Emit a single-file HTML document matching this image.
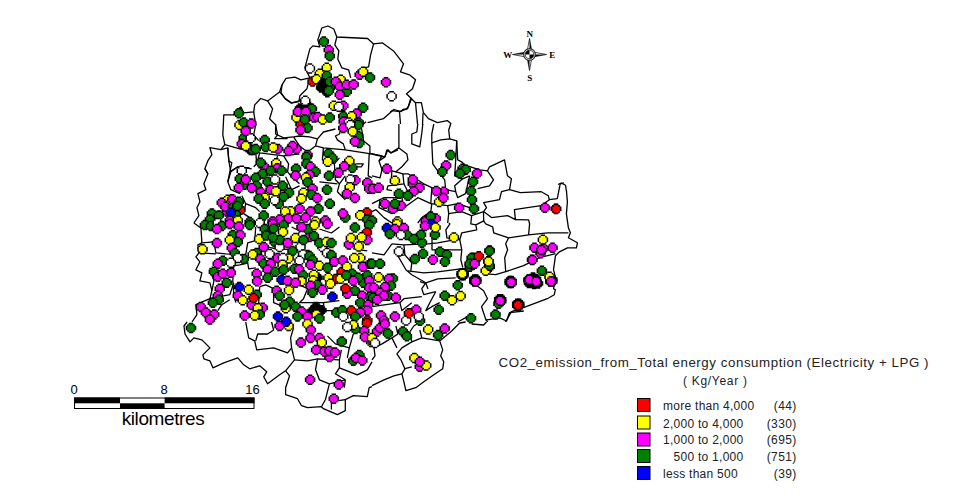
<!DOCTYPE html>
<html><head><meta charset="utf-8"><title>CO2 emission map</title>
<style>
html,body{margin:0;padding:0;background:#fff;}
body{width:964px;height:499px;overflow:hidden;position:relative;font-family:"Liberation Sans",sans-serif;color:#000;}
svg{position:absolute;left:0;top:0;}
svg text{font-family:"Liberation Sans",sans-serif;}
</style></head><body>
<svg width="964" height="499" viewBox="0 0 964 499">
<g fill="none" stroke="#000" stroke-width="1.3" stroke-linejoin="round">
<polyline points="227.8,147.9 228.8,160.9 231.8,162.8 229.8,171.8 227.8,181.8 230.8,189.7 239.8,193.7"/>
<polyline points="229.8,171.8 237.8,166.8 249.7,167.8"/>
<polyline points="255.7,151.9 256.7,163.8 253.7,166.8"/>
<polyline points="283.6,155.9 288.6,163.8 287.6,171.8 291.6,176.8 299.5,183.8"/>
<polyline points="293.5,136.9 299.5,136 309.5,136.9 317.5,138.9 315.5,145.9 307.5,151.9 299.5,145.9 293.5,136.9"/>
<polyline points="315.5,145.9 323.4,147.9 345.3,149.9 371.2,153.9"/>
<polyline points="345.3,149.9 343.3,143.9 337.4,139.9 335.4,136 339.4,134 342.4,124"/>
<polyline points="317.5,138.9 323.4,132 335.4,129"/>
<polyline points="275.6,124 275.6,134 283.6,137.9 293.5,136.9"/>
<polyline points="323.4,147.9 322.4,159.9 334.4,163.8 339.4,157.9"/>
<polyline points="334.4,163.8 335.4,179.8 339.4,183.8 337.4,191.7 345.3,199.7"/>
<polyline points="339.4,183.8 345.3,175.8"/>
<polyline points="285.6,176.8 291.6,189.7 299.5,185.8"/>
<polyline points="241.8,195.7 245.7,203.7 255.7,207.7 259.7,211.6"/>
<polyline points="245.7,203.7 243.7,213.6 249.7,217.6"/>
<polyline points="355.3,163.8 363.3,163.8 361.3,166.8 355.3,166.8"/>
<polyline points="369.2,153.9 368.2,175.8 372,177.8"/>
<polyline points="319.4,181.8 337.4,183.8"/>
<polyline points="259.7,152.9 257.7,159.9"/>
<polyline points="277.6,155.9 275.6,161.8"/>
<polyline points="267.6,179.8 267.6,191.7"/>
<polyline points="200.9,228 205.9,229"/>
<polyline points="213.9,241.9 215.9,252.9 225.8,253.9 245.7,254.9 247.7,262.8 239.8,264.8 233.8,265.8 232.8,280.8 233.8,294.7 235.8,302.7"/>
<polyline points="247.7,262.8 248.7,268.8 255.7,267.8"/>
<polyline points="255.7,227 254.7,240.9 247.7,242.9 245.7,254.9"/>
<polyline points="255.7,240.9 267.6,246.9 275.6,248.9 299.5,249.9 301.5,255.9"/>
<polyline points="267.6,246.9 268.6,258.9"/>
<polyline points="259.7,286.7 265.7,284.8 273.6,288.7 273.6,302.7 283.6,306.7"/>
<polyline points="259.7,286.7 258.7,302.7 265.7,310.6"/>
<polyline points="299.5,284.8 307.5,288.7 303.5,298.7 299.5,302.7 323.4,302.7 339.4,300.7"/>
<polyline points="323.4,302.7 324.4,310.6 335.4,310.6"/>
<polyline points="319.4,229 331.4,233 339.4,227"/>
<polyline points="353.3,248.9 367.3,250.9"/>
<polyline points="291.6,227 299.5,231 297.5,236.9"/>
<polyline points="209.9,267.8 213.9,280.8 211.9,290.7"/>
<polyline points="282,84.8 286,78.4 294.9,77.2 300.9,79.8 309.9,77.8 306.9,88.7 299.9,95.7 298.9,101.7 291,103.1 285,98.7 281,92.7 282,84.8"/>
<polyline points="309.9,77.8 304.9,67.8 309.9,48.9 312.9,45.9 319.8,46.9 317.8,39.9 321.8,28 327.8,26 333.8,29 336.8,37 367.6,38.5 373.6,43.9 382.6,42.9 393.5,50.9 403.5,63.8 400.5,71.8 409.5,74.8 415.5,79.8 412.5,88.7 406.5,93.7 411.5,98.7 407.5,108.7 399.5,111.7 392.5,110.7 383.6,118.6 367.6,122.6"/>
<polyline points="411.5,98.7 415.5,102.7 421.4,102.7 423.4,112.6 428.4,118.6 437.4,122.6 447.3,120.6 451.3,124"/>
<polyline points="336.8,37 334.8,44.9 338.8,50.9 337.8,58.9 341.8,67.8 348.7,69.8 350.7,77.8"/>
<polyline points="373.6,43.9 370.6,54.9 368.6,66.8 363.7,67.8"/>
<polyline points="399.5,111.7 400.5,124"/>
<polyline points="415.5,102.7 417.5,124"/>
<polyline points="282,84.8 279.6,91.9 267.6,100.9 260.7,98.5 254.7,104.9 253.7,111.9 243.7,112.8 240.8,106.9 236.8,109.9 233.8,114.8 223.8,114.8 222.8,134.8 224.8,144.7 220.8,149.7 209.9,147.7 211.9,154.7 207.9,160.7 204.9,168.6 207.9,174"/>
<polyline points="267.6,100.9 272.6,108.9 269.6,118.8 275.6,124.8 277.6,134.8 274.6,138.7 287.6,138.7"/>
<polyline points="253.7,111.9 255.7,124.8 253.7,134.8 258.7,140.7"/>
<polyline points="279.6,91.9 285.6,98.9 291.6,102.9 299.5,100.9 304.5,96.9"/>
<polyline points="204.9,168.6 207.9,173.8 203.9,183.8 205.9,189.7 197.9,193.7 199.9,201.7 196.9,207.7 198.9,215.6 193.9,223"/>
<polyline points="224.8,144.7 239.8,148.9 259.7,152.9 283.6,155.9 299.5,153.9"/>
<polyline points="220.8,149.7 227.8,147.9 228.8,160.9 230.8,171.8 227.8,181.8"/>
<polyline points="230.8,171.8 237.8,166.8 251.7,168.8"/>
<polyline points="398.9,124 398.9,147.9 406.9,153.9 407.9,159.9 401.9,166.8 395.9,171.8 391.9,170.8 382,169.8 379,160.9 384.9,156.9 386.9,149.9 390.9,152.9 398.9,147.9"/>
<polyline points="417.8,124 416.8,132 411.8,134 411.8,143.9 419.8,146.9 421.8,133 422.8,124"/>
<polyline points="433.8,124 431.8,134 431.8,142.9 440.7,139.9 449.7,138.9 456.7,140.9 457.7,159.9 461.6,161.8 464.6,164.8"/>
<polyline points="450.7,124 448.7,130 449.7,138.9"/>
<polyline points="431.8,142.9 432.8,163.8 437.7,170.8"/>
<polyline points="456.7,140.9 455.7,159.9 454.7,175.8 462.6,178.8 469.6,175.8"/>
<polyline points="464.6,164.8 479.6,169.8 487.5,170.8 489.5,166.8 504.5,159.9 507.5,175.8 511.4,178.8 509.5,189.7 520.4,192.7 541.3,191.7 548.3,195.7 549.3,199.7 557.3,198.7 560.2,183.8 564,182.8"/>
<polyline points="487.5,170.8 493.5,179.8 489.5,185.8 477.6,188.7"/>
<polyline points="509.5,189.7 501.5,191.7 499.5,199.7 483.6,202.7 486.5,207.7 483.6,211.6 491.5,217.6 507.5,215.6 515.4,219.6 514.4,209.7 527.4,207.7 541.3,205.7 549.3,199.7"/>
<polyline points="372,153.9 382,155.9 379,160.9"/>
<polyline points="395.9,171.8 402.9,173.8 407.9,173.8 423.8,183.8 431.8,187.7 445.7,189.7 444.7,179.8 437.7,170.8"/>
<polyline points="445.7,189.7 455.7,191.7 457.7,197.7 465.6,193.7 469.6,175.8"/>
<polyline points="455.7,191.7 454.7,185.8 462.6,178.8"/>
<polyline points="431.8,187.7 430.8,203.7 447.7,205.7 457.7,203.7 469.6,207.7"/>
<polyline points="447.7,205.7 448.7,213.6 447.7,223"/>
<polyline points="448.7,213.6 461.6,211.6 471.6,215.6 483.6,211.6"/>
<polyline points="382,169.8 380,177.8 372,175.8"/>
<polyline points="402.9,173.8 403.9,183.8 387.9,185.8 386.9,189.7 391.9,190.7"/>
<polyline points="391.9,170.8 390.9,183.8"/>
<polyline points="372,203.7 380,199.7 384,197.7 401.9,197.7 403.9,207.7 417.8,197.7 430.8,203.7"/>
<polyline points="380,199.7 379,207.7 391.9,213.6 403.9,207.7"/>
<polyline points="403.9,183.8 407.9,191.7 423.8,183.8"/>
<polyline points="372,211.6 376,209.7 384,217.6 391.9,223"/>
<polyline points="417.8,223 421.8,217.6 430.8,211.6 431.8,203.7"/>
<polyline points="566.4,190 567.4,202 566.4,213.9 568.4,227.8 570.4,232.8 568.4,237.8 577.4,242.8 576.4,247.8 567.4,247.8 559.4,251.8 555.5,255.7 553.5,269.7 555.5,277.6 553.5,289"/>
<polyline points="568.4,232.8 547.5,232.8 528.6,234.8 508.6,237.8 505.7,243.8 507.6,249.8 504.7,257.7 505.7,271.7 495.7,274.7 483.7,273.7"/>
<polyline points="505.7,271.7 523.6,265.7 539.5,257.7 555.5,253.7"/>
<polyline points="528.6,234.8 529.6,223.9 528.6,219.9 515.4,219.7"/>
<polyline points="508.6,237.8 493.7,232.8 492.7,226.9 485.7,223.9 483.7,220.9 475.8,224.9 476.8,229.8 461.8,232.8 459.8,239.8 461.8,249.8 460.8,259.7 462.8,267.7"/>
<polyline points="483.7,220.9 483.5,211.7"/>
<polyline points="448.9,223.1 449.9,223.9 445.9,229.8 446.9,237.8 459.8,239.8"/>
<polyline points="471.6,215.7 470.8,223.9 475.8,224.9"/>
<polyline points="420,281.6 426,283.6 428,289"/>
<polyline points="432,237.8 432,249.8 449.9,249.8 461.8,249.8"/>
<polyline points="193.9,223 200.9,228 201.9,242.9 197.9,244.9 198.9,252.9 195.9,256.9 199.9,261.8 195.9,269.8 201.9,272.8 199.9,280.8 209.9,282.8 211.9,290.7 209.9,298.7 195.9,304.7 196.9,314.6 192,322"/>
<polyline points="201.9,242.9 213.9,241.9"/>
<polyline points="198.9,252.9 215.9,253.9"/>
<polyline points="209.9,298.7 229.8,294.7 233.8,282.8"/>
<polyline points="229.8,299.7 221.8,304.7 217.8,310.6"/>
<polyline points="553.5,288.9 555.3,289.7 554.3,294.7 547.3,298.7 531.4,304.7 523.4,307.7 511.4,311.6 507.5,318.6 505.5,322"/>
<polyline points="407.9,270.8 423.8,272.8 437.7,271.8 460.6,268.8 463.6,276.8"/>
<polyline points="391.9,243.9 403.9,244.9 404.9,254.9 397.9,255.9 405.9,269.8 411.8,274.8 425.8,282.8 421.8,288.7 423.8,294.7 435.7,291.7"/>
<polyline points="425.8,282.8 437.7,278.8 455.7,277.8"/>
<polyline points="475.6,284.8 483.6,290.7 487.5,298.7 481.6,306.7 485.5,318.6 487.5,322"/>
<polyline points="435.7,291.7 429.8,302.7 425.8,310.6 431.8,306.7 439.7,302.7"/>
<polyline points="372,252.9 384,254.9 391.9,243.9"/>
<polyline points="404.9,254.9 411.8,262.8 410.8,270.8"/>
<polyline points="403.9,244.9 427.8,243.9 437.7,242.9 459.6,238.9"/>
<polyline points="372,306.7 399.9,302.7 403.9,298.7 421.8,296.7"/>
<polyline points="399.9,302.7 401.9,310.6 411.8,302.7"/>
<polyline points="457.7,322 467.6,316.6"/>
<polyline points="187,322 184,326 185,334 190,341.9 193.9,337.9 201.9,339.9 209.9,347.9 202.9,354.9 203.9,358.9 209.9,360.8 212.9,367.8 223.8,362.8 237.8,357.9 243.7,364.8 249.7,368.8 259.7,365.8 266.7,371.8 263.7,376.8 267.6,383.8 279.6,374.8 285.6,370.8 289.6,375.8 285.6,387.7 285.6,394.7 297.5,398.7 301.5,405.7 307.5,407.7 321.4,406.7 323.4,408.7 337.4,414.6 345.3,410.6 345.3,399.7 353.3,395.7 367.3,396.7 369.2,387.7 372,386.7"/>
<polyline points="245.7,322 248.7,337.9 254.7,340.9 256.7,349.9 273.6,347.9 287.6,352.9 291.6,347.9 290.6,337.9 293.5,328"/>
<polyline points="255.7,340.9 257.7,334 267.6,334 273.6,330 271.6,322"/>
<polyline points="291.6,347.9 294.5,359.8 285.6,370.8"/>
<polyline points="294.5,359.8 307.5,360.8 317.5,358.9 339.4,359.8 341.4,349.9"/>
<polyline points="317.5,358.9 315.5,369.8 319.4,379.8 329.4,383.8 325.4,399.7 321.4,406.7"/>
<polyline points="329.4,383.8 345.3,379.8 344.3,387.7"/>
<polyline points="339.4,359.8 339.4,367.8 335.4,373.8 345.3,379.8"/>
<polyline points="339.4,367.8 357.3,374.8 367.3,369.8 372,361.8"/>
<polyline points="345.3,399.7 331.4,401.7 331.4,409.6"/>
<polyline points="327.4,335.9 335.4,343.9 349.3,347.9 353.3,334"/>
<polyline points="349.3,347.9 347.3,357.9"/>
<polyline points="372,385.7 384,379.8 393.9,375.8 401.9,373.8 403.9,381.8 405.9,390.7 415.8,387.7 423.8,381.8 433.8,374.8 442.7,368.8 443.7,361.8 440.7,355.9 442.7,349.9 439.7,340.9 451.7,331 459.6,323 465.6,322"/>
<polyline points="471.6,324 483.6,325 486.5,322"/>
<polyline points="401.9,373.8 404.9,368.8 400.9,359.8 396.9,353.9 401.9,347.9 411.8,341.9 421.8,337.9 439.7,340.9"/>
<polyline points="403.9,368.8 411.8,366.8"/>
<polyline points="372,359.8 375,355.9 374,347.9 382,343.9 391.9,337.9 397.9,334 395.9,326"/>
<polyline points="391.9,337.9 396.9,347.9"/>
<polyline points="411.8,341.9 409.8,332 413.8,326 419.8,322"/>
<polyline points="421.8,337.9 419.8,330"/>
<polyline points="411,97.5 408.5,106 406.5,109 403,109.5 401,111.5 394,109.5 390,112"/>
<polyline points="423,113 422.5,125"/>
<polyline points="366.1,121.8 361.1,126.1 363.6,141.1 369.9,146.1 369.9,153.5"/>
<polyline points="384.8,157 387.9,149.8 391,152.9 397.9,149.8"/>
<polyline points="369.9,153.5 384.8,157"/>
<polyline points="558,184.5 561.2,183 565.5,185.3 566.3,190.5"/>
<polyline points="485.4,320.1 499.7,317.8 506.5,321 509.5,312.6 523.8,311"/>
</g>
<defs><g id="o"><path d="M-2.25,-5.25L2.25,-5.25L2.25,-3.75L3.75,-3.75L3.75,-2.25L5.25,-2.25L5.25,2.25L3.75,2.25L3.75,3.75L2.25,3.75L2.25,5.25L-2.25,5.25L-2.25,3.75L-3.75,3.75L-3.75,2.25L-5.25,2.25L-5.25,-2.25L-3.75,-2.25L-3.75,-3.75L-2.25,-3.75Z" fill="#000"/><path d="M-2.25,-3.75L2.25,-3.75L2.25,-2.25L3.75,-2.25L3.75,2.25L2.25,2.25L2.25,3.75L-2.25,3.75L-2.25,2.25L-3.75,2.25L-3.75,-2.25L-2.25,-2.25Z"/></g></defs>
<g>
<use href="#o" x="335.6" y="279" fill="#ff0000"/>
<use href="#o" x="274.6" y="241.9" fill="#008000"/>
<use href="#o" x="307.5" y="254.9" fill="#ffff00"/>
<use href="#o" x="309.5" y="236.9" fill="#ff00ff"/>
<use href="#o" x="352.3" y="273.8" fill="#008000"/>
<use href="#o" x="363.3" y="282.8" fill="#008000"/>
<use href="#o" x="317.5" y="277.8" fill="#000000"/>
<use href="#o" x="341.6" y="272" fill="#ff0000"/>
<use href="#o" x="300.5" y="246.9" fill="#ffffff"/>
<use href="#o" x="303.1" y="254.5" fill="#ffffff"/>
<use href="#o" x="299.5" y="260.8" fill="#ffffff"/>
<use href="#o" x="322.4" y="246.9" fill="#ffffff"/>
<use href="#o" x="327" y="252.9" fill="#ffffff"/>
<use href="#o" x="279.6" y="246.9" fill="#ffffff"/>
<use href="#o" x="285.8" y="308.3" fill="#ffff00"/>
<use href="#o" x="420" y="320.8" fill="#008000"/>
<use href="#o" x="406.1" y="320.6" fill="#ffffff"/>
<use href="#o" x="312.4" y="311" fill="#000000"/>
<use href="#o" x="321.4" y="310.3" fill="#000000"/>
<use href="#o" x="316" y="307" fill="#000000"/>
<use href="#o" x="509.7" y="281.1" fill="#000000"/>
<use href="#o" x="511.7" y="281.1" fill="#000000"/>
<use href="#o" x="509.7" y="283.1" fill="#000000"/>
<use href="#o" x="511.7" y="283.1" fill="#000000"/>
<use href="#o" x="517.2" y="303.7" fill="#000000"/>
<use href="#o" x="519.2" y="303.7" fill="#000000"/>
<use href="#o" x="517.2" y="305.7" fill="#000000"/>
<use href="#o" x="519.2" y="305.7" fill="#000000"/>
<use href="#o" x="499.2" y="299.2" fill="#000000"/>
<use href="#o" x="501.2" y="299.2" fill="#000000"/>
<use href="#o" x="499.2" y="301.2" fill="#000000"/>
<use href="#o" x="501.2" y="301.2" fill="#000000"/>
<use href="#o" x="474.3" y="279.6" fill="#000000"/>
<use href="#o" x="476.3" y="279.6" fill="#000000"/>
<use href="#o" x="474.3" y="281.6" fill="#000000"/>
<use href="#o" x="476.3" y="281.6" fill="#000000"/>
<use href="#o" x="550.3" y="279.6" fill="#000000"/>
<use href="#o" x="552.3" y="279.6" fill="#000000"/>
<use href="#o" x="550.3" y="281.6" fill="#000000"/>
<use href="#o" x="552.3" y="281.6" fill="#000000"/>
<use href="#o" x="461.6" y="273.3" fill="#000000"/>
<use href="#o" x="463.6" y="273.3" fill="#000000"/>
<use href="#o" x="461.6" y="275.3" fill="#000000"/>
<use href="#o" x="463.6" y="275.3" fill="#000000"/>
<use href="#o" x="531" y="280" fill="#000000"/>
<use href="#o" x="533" y="277.5" fill="#000000"/>
<use href="#o" x="534" y="284" fill="#000000"/>
<use href="#o" x="538" y="283.5" fill="#000000"/>
<use href="#o" x="529" y="283" fill="#000000"/>
<use href="#o" x="536" y="279" fill="#000000"/>
<use href="#o" x="312.6" y="81.5" fill="#ff0000"/>
<use href="#o" x="321.1" y="87.4" fill="#000000"/>
<use href="#o" x="327.3" y="92.3" fill="#000000"/>
<use href="#o" x="323.6" y="82.4" fill="#000000"/>
<use href="#o" x="330" y="88" fill="#008000"/>
<use href="#o" x="300.5" y="123.9" fill="#ff0000"/>
<use href="#o" x="239.5" y="125" fill="#ffff00"/>
<use href="#o" x="296.5" y="117.5" fill="#ffff00"/>
<use href="#o" x="243" y="143.5" fill="#000000"/>
<use href="#o" x="248" y="147" fill="#000000"/>
<use href="#o" x="300" y="108.5" fill="#000000"/>
<use href="#o" x="309" y="107" fill="#000000"/>
<use href="#o" x="240.4" y="209.7" fill="#ff0000"/>
<use href="#o" x="227.8" y="199.7" fill="#ffff00"/>
<use href="#o" x="226.8" y="211.6" fill="#ff00ff"/>
<use href="#o" x="235.8" y="214.6" fill="#008000"/>
<use href="#o" x="323.8" y="41.5" fill="#008000"/>
<use href="#o" x="328.8" y="49.9" fill="#ff00ff"/>
<use href="#o" x="329.8" y="55.9" fill="#008000"/>
<use href="#o" x="309.9" y="68.4" fill="#ffffff"/>
<use href="#o" x="326.8" y="67.8" fill="#ffff00"/>
<use href="#o" x="319.8" y="73.8" fill="#ffff00"/>
<use href="#o" x="326.8" y="75.8" fill="#008000"/>
<use href="#o" x="316.5" y="79.2" fill="#ffff00"/>
<use href="#o" x="340.8" y="79.8" fill="#ffff00"/>
<use href="#o" x="322.8" y="83.8" fill="#000000"/>
<use href="#o" x="324.8" y="84.8" fill="#000000"/>
<use href="#o" x="329.8" y="81.8" fill="#008000"/>
<use href="#o" x="335.8" y="81.8" fill="#ff00ff"/>
<use href="#o" x="328.8" y="90.7" fill="#008000"/>
<use href="#o" x="346.7" y="91.7" fill="#008000"/>
<use href="#o" x="339.8" y="86.4" fill="#ff00ff"/>
<use href="#o" x="346.7" y="84.8" fill="#ff00ff"/>
<use href="#o" x="353.7" y="84.4" fill="#ff00ff"/>
<use href="#o" x="339.8" y="94.7" fill="#ff00ff"/>
<use href="#o" x="359.7" y="74.8" fill="#ff00ff"/>
<use href="#o" x="363.1" y="71.8" fill="#ffff00"/>
<use href="#o" x="370" y="77.4" fill="#008000"/>
<use href="#o" x="386" y="82.2" fill="#ff00ff"/>
<use href="#o" x="391.6" y="96.3" fill="#ffffff"/>
<use href="#o" x="305.3" y="100.7" fill="#ffffff"/>
<use href="#o" x="311.9" y="108.7" fill="#008000"/>
<use href="#o" x="297.9" y="111.7" fill="#ff00ff"/>
<use href="#o" x="305.9" y="111.7" fill="#ff00ff"/>
<use href="#o" x="304.9" y="119.6" fill="#008000"/>
<use href="#o" x="313.9" y="117.6" fill="#ff00ff"/>
<use href="#o" x="317.8" y="117" fill="#ff00ff"/>
<use href="#o" x="322.8" y="119.6" fill="#ffff00"/>
<use href="#o" x="329.8" y="117.6" fill="#008000"/>
<use href="#o" x="333.8" y="105.7" fill="#ffff00"/>
<use href="#o" x="343.3" y="105.7" fill="#ff00ff"/>
<use href="#o" x="338.8" y="106.7" fill="#ffffff"/>
<use href="#o" x="363.1" y="107.7" fill="#008000"/>
<use href="#o" x="343.3" y="116.2" fill="#008000"/>
<use href="#o" x="356.7" y="113.6" fill="#ff00ff"/>
<use href="#o" x="351.7" y="116.2" fill="#ffff00"/>
<use href="#o" x="358.7" y="122.6" fill="#008000"/>
<use href="#o" x="343.7" y="121.6" fill="#ff00ff"/>
<use href="#o" x="348.7" y="122.6" fill="#ffffff"/>
<use href="#o" x="238.8" y="113.2" fill="#008000"/>
<use href="#o" x="243.7" y="122.4" fill="#008000"/>
<use href="#o" x="251.3" y="123.4" fill="#ff00ff"/>
<use href="#o" x="243.7" y="137.9" fill="#008000"/>
<use href="#o" x="245.7" y="131" fill="#ff00ff"/>
<use href="#o" x="250.7" y="138.3" fill="#ffffff"/>
<use href="#o" x="241.8" y="143.9" fill="#ff00ff"/>
<use href="#o" x="250.7" y="149.9" fill="#000000"/>
<use href="#o" x="252.7" y="149.9" fill="#008000"/>
<use href="#o" x="255.7" y="148.9" fill="#008000"/>
<use href="#o" x="245.7" y="145.9" fill="#ffff00"/>
<use href="#o" x="264.7" y="139.9" fill="#008000"/>
<use href="#o" x="265.7" y="146.9" fill="#008000"/>
<use href="#o" x="278" y="148.9" fill="#ff00ff"/>
<use href="#o" x="273.2" y="147.5" fill="#ffff00"/>
<use href="#o" x="296.5" y="148.9" fill="#ff00ff"/>
<use href="#o" x="292.5" y="145.9" fill="#ff00ff"/>
<use href="#o" x="288.6" y="150.9" fill="#ff00ff"/>
<use href="#o" x="307.5" y="128" fill="#008000"/>
<use href="#o" x="300.5" y="130" fill="#ff00ff"/>
<use href="#o" x="343.3" y="128" fill="#ff00ff"/>
<use href="#o" x="358.3" y="125" fill="#008000"/>
<use href="#o" x="350.3" y="125" fill="#ffffff"/>
<use href="#o" x="359.3" y="142.9" fill="#008000"/>
<use href="#o" x="358.3" y="136" fill="#008000"/>
<use href="#o" x="352.7" y="131.6" fill="#ffff00"/>
<use href="#o" x="354.9" y="141.5" fill="#ff00ff"/>
<use href="#o" x="263.7" y="166.2" fill="#ff00ff"/>
<use href="#o" x="260.7" y="162.8" fill="#008000"/>
<use href="#o" x="276.2" y="163.2" fill="#ffff00"/>
<use href="#o" x="277.2" y="168.2" fill="#ff00ff"/>
<use href="#o" x="262.7" y="173.8" fill="#008000"/>
<use href="#o" x="270.6" y="170.8" fill="#008000"/>
<use href="#o" x="281.6" y="170.8" fill="#008000"/>
<use href="#o" x="241.8" y="170.8" fill="#ffffff"/>
<use href="#o" x="239.8" y="178.8" fill="#008000"/>
<use href="#o" x="243.7" y="184.8" fill="#008000"/>
<use href="#o" x="245.7" y="179.4" fill="#ff00ff"/>
<use href="#o" x="255.7" y="177.8" fill="#008000"/>
<use href="#o" x="238.8" y="187.7" fill="#ff00ff"/>
<use href="#o" x="256.7" y="185.8" fill="#008000"/>
<use href="#o" x="251.7" y="188.1" fill="#ff00ff"/>
<use href="#o" x="260.7" y="192.3" fill="#ff00ff"/>
<use href="#o" x="267.6" y="181.8" fill="#008000"/>
<use href="#o" x="275" y="179.4" fill="#ffffff"/>
<use href="#o" x="282.6" y="185.8" fill="#008000"/>
<use href="#o" x="270.6" y="189.7" fill="#ff00ff"/>
<use href="#o" x="276" y="191.3" fill="#ffff00"/>
<use href="#o" x="289" y="192.7" fill="#008000"/>
<use href="#o" x="283.6" y="196.7" fill="#008000"/>
<use href="#o" x="264.7" y="197.7" fill="#ffff00"/>
<use href="#o" x="258.7" y="198.7" fill="#008000"/>
<use href="#o" x="264.7" y="203.7" fill="#008000"/>
<use href="#o" x="307.5" y="154.9" fill="#ff00ff"/>
<use href="#o" x="306.5" y="156.9" fill="#008000"/>
<use href="#o" x="306.5" y="163.8" fill="#008000"/>
<use href="#o" x="310.5" y="166.8" fill="#ff00ff"/>
<use href="#o" x="296.1" y="168.8" fill="#008000"/>
<use href="#o" x="315.5" y="171.8" fill="#008000"/>
<use href="#o" x="295.5" y="175.4" fill="#ff00ff"/>
<use href="#o" x="309.5" y="174.8" fill="#ff00ff"/>
<use href="#o" x="305.9" y="177.4" fill="#ffff00"/>
<use href="#o" x="307.5" y="182.2" fill="#008000"/>
<use href="#o" x="312.5" y="188.7" fill="#ff00ff"/>
<use href="#o" x="303.5" y="192.7" fill="#ffff00"/>
<use href="#o" x="311.5" y="194.7" fill="#008000"/>
<use href="#o" x="301.5" y="198.7" fill="#ffff00"/>
<use href="#o" x="317.1" y="198.1" fill="#ff00ff"/>
<use href="#o" x="328.4" y="153.5" fill="#008000"/>
<use href="#o" x="332.4" y="157.9" fill="#008000"/>
<use href="#o" x="327.8" y="161.8" fill="#ffff00"/>
<use href="#o" x="329" y="175.8" fill="#008000"/>
<use href="#o" x="327" y="189.7" fill="#008000"/>
<use href="#o" x="329.8" y="203.7" fill="#008000"/>
<use href="#o" x="318.4" y="208.7" fill="#008000"/>
<use href="#o" x="352.3" y="167.8" fill="#008000"/>
<use href="#o" x="349.3" y="160.9" fill="#ffff00"/>
<use href="#o" x="344.3" y="166.2" fill="#ff00ff"/>
<use href="#o" x="338.4" y="172.8" fill="#ff00ff"/>
<use href="#o" x="355.3" y="180.2" fill="#ff00ff"/>
<use href="#o" x="350.3" y="179.4" fill="#ffffff"/>
<use href="#o" x="349.7" y="187.3" fill="#ffff00"/>
<use href="#o" x="346.9" y="193.7" fill="#ff00ff"/>
<use href="#o" x="354.9" y="198.1" fill="#ff00ff"/>
<use href="#o" x="367.3" y="182.8" fill="#ff00ff"/>
<use href="#o" x="369.2" y="188.7" fill="#ff00ff"/>
<use href="#o" x="345.3" y="217.6" fill="#008000"/>
<use href="#o" x="342.9" y="213.6" fill="#ff00ff"/>
<use href="#o" x="366.9" y="212.6" fill="#ff0000"/>
<use href="#o" x="360.3" y="215.2" fill="#ffff00"/>
<use href="#o" x="367.3" y="219.6" fill="#008000"/>
<use href="#o" x="232.2" y="199.3" fill="#ff00ff"/>
<use href="#o" x="221.8" y="202.7" fill="#ff00ff"/>
<use href="#o" x="238.8" y="201.7" fill="#008000"/>
<use href="#o" x="225.4" y="206.7" fill="#ff00ff"/>
<use href="#o" x="232.8" y="207.7" fill="#008000"/>
<use href="#o" x="230.8" y="212.6" fill="#0000ff"/>
<use href="#o" x="211.9" y="213.6" fill="#008000"/>
<use href="#o" x="218.8" y="215.6" fill="#008000"/>
<use href="#o" x="209.9" y="219.6" fill="#008000"/>
<use href="#o" x="229.8" y="220.6" fill="#ff00ff"/>
<use href="#o" x="237.8" y="220.6" fill="#ffff00"/>
<use href="#o" x="249.7" y="222" fill="#008000"/>
<use href="#o" x="278.6" y="203.7" fill="#008000"/>
<use href="#o" x="290.6" y="211.3" fill="#ffff00"/>
<use href="#o" x="285.2" y="211.6" fill="#ffff00"/>
<use href="#o" x="299.5" y="208.7" fill="#ff00ff"/>
<use href="#o" x="310.5" y="211.6" fill="#ff00ff"/>
<use href="#o" x="288.6" y="218.6" fill="#ff00ff"/>
<use href="#o" x="296.5" y="218.6" fill="#ff00ff"/>
<use href="#o" x="305.5" y="217.6" fill="#ff00ff"/>
<use href="#o" x="263.7" y="215.6" fill="#008000"/>
<use href="#o" x="279.6" y="219.6" fill="#ff00ff"/>
<use href="#o" x="272.6" y="221.6" fill="#ff00ff"/>
<use href="#o" x="325.4" y="220.6" fill="#ff00ff"/>
<use href="#o" x="315.5" y="221.6" fill="#ffff00"/>
<use href="#o" x="450.7" y="154.9" fill="#008000"/>
<use href="#o" x="446.1" y="165.4" fill="#ff00ff"/>
<use href="#o" x="442.3" y="171.8" fill="#008000"/>
<use href="#o" x="462.6" y="168.8" fill="#008000"/>
<use href="#o" x="465.6" y="169.8" fill="#008000"/>
<use href="#o" x="460" y="173.4" fill="#008000"/>
<use href="#o" x="477" y="173.4" fill="#ff00ff"/>
<use href="#o" x="473" y="181.8" fill="#008000"/>
<use href="#o" x="471" y="191.1" fill="#008000"/>
<use href="#o" x="472" y="199.7" fill="#008000"/>
<use href="#o" x="474" y="208.7" fill="#008000"/>
<use href="#o" x="459.1" y="207.7" fill="#ff00ff"/>
<use href="#o" x="544.9" y="207.7" fill="#ff00ff"/>
<use href="#o" x="555.9" y="208.7" fill="#ff0000"/>
<use href="#o" x="386.9" y="168.8" fill="#ff00ff"/>
<use href="#o" x="394.9" y="180.8" fill="#ffff00"/>
<use href="#o" x="412.8" y="183.8" fill="#ff00ff"/>
<use href="#o" x="412.8" y="179.4" fill="#ff00ff"/>
<use href="#o" x="419.4" y="187.7" fill="#ff00ff"/>
<use href="#o" x="413.8" y="191.3" fill="#ff00ff"/>
<use href="#o" x="373" y="188.7" fill="#ff00ff"/>
<use href="#o" x="378.6" y="187.7" fill="#ff00ff"/>
<use href="#o" x="398.9" y="193.7" fill="#008000"/>
<use href="#o" x="407.9" y="195.7" fill="#008000"/>
<use href="#o" x="384.9" y="203.7" fill="#ff00ff"/>
<use href="#o" x="400.9" y="205.7" fill="#ff00ff"/>
<use href="#o" x="392.9" y="208.7" fill="#ff00ff"/>
<use href="#o" x="394.9" y="203.7" fill="#008000"/>
<use href="#o" x="443.7" y="191.7" fill="#ff00ff"/>
<use href="#o" x="436.3" y="191.1" fill="#ff00ff"/>
<use href="#o" x="439.1" y="202.1" fill="#ffff00"/>
<use href="#o" x="443.3" y="198.1" fill="#ff00ff"/>
<use href="#o" x="435.7" y="218.6" fill="#ff00ff"/>
<use href="#o" x="425.8" y="221.2" fill="#ff00ff"/>
<use href="#o" x="430.8" y="216.6" fill="#008000"/>
<use href="#o" x="397.5" y="221.6" fill="#ffff00"/>
<use href="#o" x="372" y="220.6" fill="#008000"/>
<use href="#o" x="556.1" y="208.9" fill="#ff0000"/>
<use href="#o" x="542.9" y="239.8" fill="#ffff00"/>
<use href="#o" x="540.5" y="253.3" fill="#ff00ff"/>
<use href="#o" x="534.5" y="247.8" fill="#ff00ff"/>
<use href="#o" x="552.5" y="247.8" fill="#ff00ff"/>
<use href="#o" x="543.5" y="248.4" fill="#ff00ff"/>
<use href="#o" x="532" y="259.7" fill="#ff00ff"/>
<use href="#o" x="541.9" y="270.7" fill="#008000"/>
<use href="#o" x="528.6" y="279.6" fill="#000000"/>
<use href="#o" x="528.6" y="280.6" fill="#ff00ff"/>
<use href="#o" x="549.5" y="276.7" fill="#ffff00"/>
<use href="#o" x="535.9" y="281.2" fill="#ff00ff"/>
<use href="#o" x="550.9" y="281.2" fill="#ff00ff"/>
<use href="#o" x="511" y="282.2" fill="#ff00ff"/>
<use href="#o" x="489.7" y="250.4" fill="#008000"/>
<use href="#o" x="472.8" y="257.7" fill="#008000"/>
<use href="#o" x="474.8" y="259.7" fill="#ffff00"/>
<use href="#o" x="469.8" y="266.7" fill="#008000"/>
<use href="#o" x="472.8" y="264.7" fill="#ff00ff"/>
<use href="#o" x="489.7" y="266.7" fill="#008000"/>
<use href="#o" x="485.7" y="270.7" fill="#ffff00"/>
<use href="#o" x="488.3" y="261.3" fill="#ffff00"/>
<use href="#o" x="462.4" y="273.7" fill="#ffff00"/>
<use href="#o" x="475.4" y="281.2" fill="#ff00ff"/>
<use href="#o" x="457.8" y="285.2" fill="#008000"/>
<use href="#o" x="453.9" y="237.4" fill="#ffff00"/>
<use href="#o" x="434.9" y="234.8" fill="#008000"/>
<use href="#o" x="439.9" y="251.8" fill="#008000"/>
<use href="#o" x="446.9" y="254.7" fill="#008000"/>
<use href="#o" x="444.9" y="261.7" fill="#008000"/>
<use href="#o" x="432.9" y="259.7" fill="#ff00ff"/>
<use href="#o" x="423" y="253.7" fill="#008000"/>
<use href="#o" x="422" y="242.8" fill="#008000"/>
<use href="#o" x="421" y="234.8" fill="#008000"/>
<use href="#o" x="431.6" y="223.9" fill="#0000ff"/>
<use href="#o" x="425" y="225.9" fill="#ff00ff"/>
<use href="#o" x="435.5" y="227.5" fill="#ffff00"/>
<use href="#o" x="204.9" y="225" fill="#008000"/>
<use href="#o" x="210.9" y="226" fill="#008000"/>
<use href="#o" x="217.8" y="223" fill="#ffffff"/>
<use href="#o" x="221.8" y="226" fill="#008000"/>
<use href="#o" x="216.9" y="229" fill="#ff00ff"/>
<use href="#o" x="229.8" y="224" fill="#ff00ff"/>
<use href="#o" x="249.7" y="225" fill="#008000"/>
<use href="#o" x="238.8" y="226.6" fill="#ff00ff"/>
<use href="#o" x="259.7" y="223" fill="#ffffff"/>
<use href="#o" x="264.7" y="229" fill="#008000"/>
<use href="#o" x="269.2" y="233" fill="#0000ff"/>
<use href="#o" x="272.6" y="224" fill="#ff00ff"/>
<use href="#o" x="283.6" y="225" fill="#008000"/>
<use href="#o" x="283" y="232" fill="#ffff00"/>
<use href="#o" x="307.5" y="229" fill="#008000"/>
<use href="#o" x="301.5" y="227" fill="#ff00ff"/>
<use href="#o" x="314.5" y="225" fill="#ffff00"/>
<use href="#o" x="327.4" y="224" fill="#ff00ff"/>
<use href="#o" x="354.9" y="227.4" fill="#008000"/>
<use href="#o" x="369.2" y="225" fill="#008000"/>
<use href="#o" x="366.9" y="232.6" fill="#ff0000"/>
<use href="#o" x="232.8" y="235" fill="#008000"/>
<use href="#o" x="240.4" y="235" fill="#ff00ff"/>
<use href="#o" x="237.8" y="241.9" fill="#008000"/>
<use href="#o" x="229.8" y="239.9" fill="#ffff00"/>
<use href="#o" x="216.9" y="242.9" fill="#ff00ff"/>
<use href="#o" x="202.5" y="249.3" fill="#ffff00"/>
<use href="#o" x="259.1" y="238.9" fill="#ffff00"/>
<use href="#o" x="263.7" y="246.9" fill="#ff00ff"/>
<use href="#o" x="279.6" y="239.9" fill="#008000"/>
<use href="#o" x="287.6" y="242.9" fill="#ff00ff"/>
<use href="#o" x="295.5" y="237.9" fill="#ffff00"/>
<use href="#o" x="303.5" y="239.9" fill="#008000"/>
<use href="#o" x="313.9" y="235.9" fill="#008000"/>
<use href="#o" x="319.4" y="242.9" fill="#008000"/>
<use href="#o" x="326.4" y="241.9" fill="#ffff00"/>
<use href="#o" x="331.4" y="242.9" fill="#008000"/>
<use href="#o" x="348.9" y="244.5" fill="#ff00ff"/>
<use href="#o" x="350.9" y="237.9" fill="#ffff00"/>
<use href="#o" x="367.3" y="239.9" fill="#ff00ff"/>
<use href="#o" x="361.7" y="237.3" fill="#ffff00"/>
<use href="#o" x="358.7" y="246.5" fill="#ffff00"/>
<use href="#o" x="231.8" y="247.9" fill="#ff00ff"/>
<use href="#o" x="234.8" y="252.9" fill="#008000"/>
<use href="#o" x="222.8" y="260.8" fill="#008000"/>
<use href="#o" x="243.7" y="258.9" fill="#008000"/>
<use href="#o" x="237.8" y="257.9" fill="#ffffff"/>
<use href="#o" x="230.8" y="262.8" fill="#ffffff"/>
<use href="#o" x="217.8" y="263.8" fill="#ff00ff"/>
<use href="#o" x="256.7" y="252.9" fill="#008000"/>
<use href="#o" x="252.7" y="254.5" fill="#ffff00"/>
<use href="#o" x="260.3" y="258.9" fill="#ff00ff"/>
<use href="#o" x="269.6" y="253.9" fill="#ffffff"/>
<use href="#o" x="263.7" y="263.8" fill="#008000"/>
<use href="#o" x="270.6" y="263.8" fill="#ff00ff"/>
<use href="#o" x="292.5" y="250.9" fill="#008000"/>
<use href="#o" x="277.6" y="257.9" fill="#ff00ff"/>
<use href="#o" x="288.6" y="258.5" fill="#ffff00"/>
<use href="#o" x="283" y="257.9" fill="#ffffff"/>
<use href="#o" x="282.6" y="264.8" fill="#ffff00"/>
<use href="#o" x="309.5" y="255.9" fill="#008000"/>
<use href="#o" x="312.5" y="259.9" fill="#008000"/>
<use href="#o" x="310.5" y="264.8" fill="#ff00ff"/>
<use href="#o" x="319.4" y="265.8" fill="#ffff00"/>
<use href="#o" x="331.4" y="254.9" fill="#008000"/>
<use href="#o" x="334.4" y="261.8" fill="#ff00ff"/>
<use href="#o" x="342.9" y="260.5" fill="#ff00ff"/>
<use href="#o" x="327.4" y="267.8" fill="#008000"/>
<use href="#o" x="360.3" y="257.9" fill="#ffff00"/>
<use href="#o" x="354.3" y="257.9" fill="#ffff00"/>
<use href="#o" x="346.9" y="266.8" fill="#ffff00"/>
<use href="#o" x="362.9" y="266.8" fill="#ff00ff"/>
<use href="#o" x="370.2" y="263.8" fill="#008000"/>
<use href="#o" x="213.9" y="271.8" fill="#008000"/>
<use href="#o" x="217.8" y="276.8" fill="#ff00ff"/>
<use href="#o" x="230.8" y="272.8" fill="#ff00ff"/>
<use href="#o" x="222.8" y="273.8" fill="#ff00ff"/>
<use href="#o" x="226.8" y="282.8" fill="#008000"/>
<use href="#o" x="267.6" y="269.8" fill="#ff00ff"/>
<use href="#o" x="256.7" y="273.8" fill="#ff00ff"/>
<use href="#o" x="275.2" y="271.8" fill="#008000"/>
<use href="#o" x="267.6" y="277.8" fill="#008000"/>
<use href="#o" x="257.1" y="281.2" fill="#ff00ff"/>
<use href="#o" x="283.6" y="269.8" fill="#008000"/>
<use href="#o" x="281.6" y="279.8" fill="#0000ff"/>
<use href="#o" x="287.6" y="280.8" fill="#ff00ff"/>
<use href="#o" x="294.5" y="268.8" fill="#008000"/>
<use href="#o" x="299.1" y="269.2" fill="#ff00ff"/>
<use href="#o" x="303.1" y="275.2" fill="#008000"/>
<use href="#o" x="301.5" y="281.2" fill="#ffff00"/>
<use href="#o" x="295.5" y="282.8" fill="#ff00ff"/>
<use href="#o" x="313.9" y="274.8" fill="#ffff00"/>
<use href="#o" x="313.1" y="280.4" fill="#ffff00"/>
<use href="#o" x="317.1" y="284.8" fill="#008000"/>
<use href="#o" x="328.4" y="277.8" fill="#ffff00"/>
<use href="#o" x="330.4" y="283.8" fill="#ffff00"/>
<use href="#o" x="340.4" y="278.8" fill="#ffff00"/>
<use href="#o" x="358.3" y="277.8" fill="#008000"/>
<use href="#o" x="367.3" y="275.2" fill="#008000"/>
<use href="#o" x="353.3" y="280.8" fill="#ff00ff"/>
<use href="#o" x="369.2" y="280.8" fill="#ff00ff"/>
<use href="#o" x="369.2" y="287.7" fill="#ff00ff"/>
<use href="#o" x="354.9" y="290.7" fill="#008000"/>
<use href="#o" x="239.2" y="287.1" fill="#0000ff"/>
<use href="#o" x="237.8" y="295.7" fill="#ff00ff"/>
<use href="#o" x="256.7" y="294.7" fill="#008000"/>
<use href="#o" x="248.7" y="289.7" fill="#ffff00"/>
<use href="#o" x="242.7" y="300.3" fill="#ffff00"/>
<use href="#o" x="219.8" y="288.7" fill="#ff00ff"/>
<use href="#o" x="217.8" y="295.7" fill="#ff00ff"/>
<use href="#o" x="218.8" y="299.7" fill="#008000"/>
<use href="#o" x="212.9" y="302.7" fill="#008000"/>
<use href="#o" x="276.6" y="290.7" fill="#ff00ff"/>
<use href="#o" x="279.6" y="295.7" fill="#008000"/>
<use href="#o" x="289" y="290.3" fill="#ffff00"/>
<use href="#o" x="289.6" y="301.7" fill="#008000"/>
<use href="#o" x="310.5" y="285.7" fill="#ff00ff"/>
<use href="#o" x="312.5" y="292.7" fill="#008000"/>
<use href="#o" x="322.4" y="289.7" fill="#ff00ff"/>
<use href="#o" x="332.4" y="296.7" fill="#0000ff"/>
<use href="#o" x="347.3" y="293.7" fill="#ff00ff"/>
<use href="#o" x="362.3" y="295.7" fill="#ff00ff"/>
<use href="#o" x="370.2" y="296.7" fill="#008000"/>
<use href="#o" x="360.3" y="302.7" fill="#008000"/>
<use href="#o" x="368.2" y="304.7" fill="#ff00ff"/>
<use href="#o" x="200.9" y="307.1" fill="#ff00ff"/>
<use href="#o" x="205.9" y="312.6" fill="#ff00ff"/>
<use href="#o" x="214.3" y="314.6" fill="#ff00ff"/>
<use href="#o" x="209.9" y="319.6" fill="#ff00ff"/>
<use href="#o" x="251.7" y="305.1" fill="#ff00ff"/>
<use href="#o" x="262.7" y="307.7" fill="#ff00ff"/>
<use href="#o" x="257.7" y="308.3" fill="#ffff00"/>
<use href="#o" x="259.7" y="314.6" fill="#008000"/>
<use href="#o" x="244.7" y="315.6" fill="#ff00ff"/>
<use href="#o" x="254.7" y="315.6" fill="#ffff00"/>
<use href="#o" x="284.6" y="304.7" fill="#008000"/>
<use href="#o" x="295.5" y="306.7" fill="#008000"/>
<use href="#o" x="301.5" y="311.6" fill="#ff00ff"/>
<use href="#o" x="297.5" y="316.6" fill="#008000"/>
<use href="#o" x="307.5" y="316.6" fill="#ff00ff"/>
<use href="#o" x="317.5" y="310.6" fill="#000000"/>
<use href="#o" x="316.5" y="314.6" fill="#ffff00"/>
<use href="#o" x="319.4" y="318.6" fill="#008000"/>
<use href="#o" x="336.4" y="312.6" fill="#008000"/>
<use href="#o" x="342.4" y="310.3" fill="#008000"/>
<use href="#o" x="351.3" y="310.6" fill="#ff0000"/>
<use href="#o" x="343.3" y="316.6" fill="#ffffff"/>
<use href="#o" x="367.3" y="310.6" fill="#ff00ff"/>
<use href="#o" x="360.3" y="312.6" fill="#ff00ff"/>
<use href="#o" x="355.3" y="316.6" fill="#008000"/>
<use href="#o" x="367.3" y="320.2" fill="#ff0000"/>
<use href="#o" x="386.9" y="228" fill="#0000ff"/>
<use href="#o" x="396.9" y="224" fill="#ffff00"/>
<use href="#o" x="394.9" y="229" fill="#ff00ff"/>
<use href="#o" x="403.9" y="228" fill="#ff00ff"/>
<use href="#o" x="389.9" y="234" fill="#008000"/>
<use href="#o" x="406.9" y="235" fill="#008000"/>
<use href="#o" x="400.9" y="235" fill="#ffffff"/>
<use href="#o" x="413.8" y="238.9" fill="#008000"/>
<use href="#o" x="414.8" y="258.9" fill="#008000"/>
<use href="#o" x="398.9" y="251.5" fill="#ffffff"/>
<use href="#o" x="372" y="263.8" fill="#008000"/>
<use href="#o" x="380" y="263.8" fill="#008000"/>
<use href="#o" x="392.9" y="278.4" fill="#008000"/>
<use href="#o" x="388.9" y="278.8" fill="#ff00ff"/>
<use href="#o" x="378.6" y="277.2" fill="#ffff00"/>
<use href="#o" x="390.9" y="285.7" fill="#008000"/>
<use href="#o" x="384.9" y="287.1" fill="#ff00ff"/>
<use href="#o" x="374" y="287.7" fill="#ff00ff"/>
<use href="#o" x="380" y="292.7" fill="#ff00ff"/>
<use href="#o" x="387.9" y="295.7" fill="#008000"/>
<use href="#o" x="384" y="295.7" fill="#ff00ff"/>
<use href="#o" x="395.9" y="297.7" fill="#ff00ff"/>
<use href="#o" x="373" y="297.7" fill="#008000"/>
<use href="#o" x="377" y="299.7" fill="#ff00ff"/>
<use href="#o" x="416.2" y="309.7" fill="#ff00ff"/>
<use href="#o" x="418.8" y="316.6" fill="#ffffff"/>
<use href="#o" x="408.9" y="313.2" fill="#ff0000"/>
<use href="#o" x="381" y="315.6" fill="#ff00ff"/>
<use href="#o" x="394.9" y="316.6" fill="#ff00ff"/>
<use href="#o" x="384" y="320.6" fill="#ff00ff"/>
<use href="#o" x="444.7" y="295.7" fill="#008000"/>
<use href="#o" x="460.6" y="296.1" fill="#ffff00"/>
<use href="#o" x="452.1" y="300.3" fill="#ffff00"/>
<use href="#o" x="438.7" y="309.7" fill="#008000"/>
<use href="#o" x="498.5" y="303.7" fill="#008000"/>
<use href="#o" x="500.1" y="300.7" fill="#ff00ff"/>
<use href="#o" x="518" y="304.7" fill="#000000"/>
<use href="#o" x="518" y="305.1" fill="#ff0000"/>
<use href="#o" x="495.5" y="314.6" fill="#008000"/>
<use href="#o" x="471" y="318.2" fill="#008000"/>
<use href="#o" x="471.6" y="257.9" fill="#008000"/>
<use href="#o" x="469.6" y="263.8" fill="#008000"/>
<use href="#o" x="489.5" y="265.8" fill="#008000"/>
<use href="#o" x="489.5" y="250.9" fill="#008000"/>
<use href="#o" x="474.6" y="263.8" fill="#ff00ff"/>
<use href="#o" x="488.5" y="261.4" fill="#ffff00"/>
<use href="#o" x="531.4" y="280.8" fill="#000000"/>
<use href="#o" x="529.4" y="279.8" fill="#ff00ff"/>
<use href="#o" x="541.3" y="249.9" fill="#ff00ff"/>
<use href="#o" x="532.4" y="259.9" fill="#ff00ff"/>
<use href="#o" x="191" y="328" fill="#008000"/>
<use href="#o" x="279.6" y="326" fill="#ff00ff"/>
<use href="#o" x="288.6" y="326" fill="#ffff00"/>
<use href="#o" x="307.5" y="324" fill="#ffff00"/>
<use href="#o" x="310.9" y="330" fill="#ff00ff"/>
<use href="#o" x="310.5" y="337.9" fill="#ff00ff"/>
<use href="#o" x="300.9" y="342.5" fill="#ff00ff"/>
<use href="#o" x="319.4" y="337.9" fill="#ff00ff"/>
<use href="#o" x="321.8" y="342.5" fill="#ffff00"/>
<use href="#o" x="316.1" y="349.9" fill="#ff00ff"/>
<use href="#o" x="329.4" y="356.9" fill="#ff00ff"/>
<use href="#o" x="324.4" y="351.5" fill="#ff00ff"/>
<use href="#o" x="329.4" y="350.9" fill="#ff00ff"/>
<use href="#o" x="335" y="352.5" fill="#ff00ff"/>
<use href="#o" x="341.8" y="341.5" fill="#008000"/>
<use href="#o" x="355.3" y="329" fill="#008000"/>
<use href="#o" x="353.3" y="325" fill="#ffff00"/>
<use href="#o" x="347.3" y="327" fill="#ffffff"/>
<use href="#o" x="366.9" y="323" fill="#ff0000"/>
<use href="#o" x="364.3" y="331" fill="#ff00ff"/>
<use href="#o" x="371.2" y="341.9" fill="#ffff00"/>
<use href="#o" x="371.2" y="339.9" fill="#ff00ff"/>
<use href="#o" x="364.9" y="336.9" fill="#ff00ff"/>
<use href="#o" x="359.3" y="354.9" fill="#008000"/>
<use href="#o" x="353.3" y="360.8" fill="#008000"/>
<use href="#o" x="355.9" y="357.9" fill="#ff00ff"/>
<use href="#o" x="362.3" y="360.4" fill="#ff00ff"/>
<use href="#o" x="310.1" y="379.8" fill="#ff00ff"/>
<use href="#o" x="338.8" y="384.4" fill="#ff00ff"/>
<use href="#o" x="333.8" y="398.7" fill="#ff00ff"/>
<use href="#o" x="377" y="331.6" fill="#ff00ff"/>
<use href="#o" x="380" y="328" fill="#ff00ff"/>
<use href="#o" x="384.9" y="324" fill="#ff00ff"/>
<use href="#o" x="387.9" y="333.6" fill="#008000"/>
<use href="#o" x="402.9" y="331.6" fill="#008000"/>
<use href="#o" x="406.9" y="336.3" fill="#008000"/>
<use href="#o" x="428.2" y="329.6" fill="#ffff00"/>
<use href="#o" x="438.1" y="334.9" fill="#008000"/>
<use href="#o" x="444.7" y="328.6" fill="#ff00ff"/>
<use href="#o" x="414.4" y="357.9" fill="#ffff00"/>
<use href="#o" x="419.8" y="366.8" fill="#ff00ff"/>
<use href="#o" x="426.2" y="365.4" fill="#ffff00"/>
<use href="#o" x="419.8" y="361.8" fill="#ff00ff"/>
<use href="#o" x="372" y="337.9" fill="#ffff00"/>
<use href="#o" x="375" y="342.9" fill="#ffffff"/>
<use href="#o" x="266.3" y="235.4" fill="#008000"/>
<use href="#o" x="272.8" y="237.3" fill="#008000"/>
<use href="#o" x="273.6" y="228.6" fill="#008000"/>
<use href="#o" x="478.8" y="256.3" fill="#ff0000"/>
<use href="#o" x="345.5" y="288.5" fill="#ff0000"/>
<use href="#o" x="346.3" y="275.2" fill="#008000"/>
<use href="#o" x="274.8" y="200.3" fill="#ffffff"/>
<use href="#o" x="253.5" y="297.9" fill="#ff0000"/>
<use href="#o" x="536.2" y="281.6" fill="#ff00ff"/>
<use href="#o" x="278" y="316.5" fill="#0000ff"/>
<use href="#o" x="286.3" y="321.8" fill="#0000ff"/>
<use href="#o" x="237.4" y="206.1" fill="#008000"/>
</g>
<!-- compass -->
<g id="compass">
<g fill="#fff" stroke="#000" stroke-width="0.7" stroke-linejoin="miter">
<polygon points="529.5,38.5 531.6,50 527.4,50"/>
<polygon points="529.5,70.5 531.6,59 527.4,59"/>
<polygon points="512.5,54.5 524,52.4 524,56.6"/>
<polygon points="546.5,54.5 535,52.4 535,56.6"/>
</g>
<g fill="#000">
<polygon points="529.5,38.5 531.6,50 529.5,50"/>
<polygon points="529.5,70.5 527.4,59 529.5,59"/>
<polygon points="512.5,54.5 524,52.4 524,54.5"/>
<polygon points="546.5,54.5 535,56.6 535,54.5"/>
</g>
<circle cx="529.5" cy="54.5" r="5.8" fill="#fff" stroke="#333" stroke-width="1.2"/>
<path d="M529.5,54.5 L529.5,50.2 A4.3,4.3 0 0 0 525.2,54.5 Z" fill="#000"/>
<path d="M529.5,54.5 L529.5,58.8 A4.3,4.3 0 0 0 533.8,54.5 Z" fill="#000"/>
<circle cx="529.5" cy="54.5" r="4.3" fill="none" stroke="#000" stroke-width="0.7"/>
<g text-anchor="middle" fill="#000" style="font-family:'Liberation Serif',serif;font-weight:bold;font-size:9px">
<text x="529.7" y="36.8" style="font-family:'Liberation Serif',serif">N</text><text x="529.7" y="81" style="font-family:'Liberation Serif',serif">S</text><text x="507.8" y="58" style="font-family:'Liberation Serif',serif">W</text><text x="552.2" y="58" style="font-family:'Liberation Serif',serif">E</text>
</g>
</g>
<!-- scale bar -->
<g id="scalebar">
<rect x="74.5" y="398" width="179.5" height="10.5" fill="#fff" stroke="#000" stroke-width="1"/>
<rect x="74" y="397.5" width="46" height="5.8" fill="#000"/>
<rect x="120" y="403.3" width="44.6" height="5.7" fill="#000"/>
<rect x="164.6" y="397.5" width="89.9" height="5.8" fill="#000"/>
<g font-size="13" text-anchor="middle" fill="#000">
<text x="74" y="394.2">0</text><text x="164" y="394.2">8</text><text x="252.6" y="394.2">16</text>
</g>
<text x="121.7" y="424.7" font-size="19" letter-spacing="-0.4">kilometres</text>
</g>
<!-- legend -->
<g id="legend" fill="#222">
<text x="498.6" y="367.2" font-size="13.3" letter-spacing="0.563">CO2_emission_from_Total energy consumption (Electricity + LPG )</text>
<text x="683" y="384.6" font-size="12" letter-spacing="0.7">( Kg/Year )</text>
<g stroke="#000" stroke-width="1">
<rect x="637.5" y="398.5" width="12.5" height="13" fill="#ff0000"/>
<rect x="637.5" y="416" width="12.5" height="13" fill="#ffff00"/>
<rect x="637.5" y="433" width="12.5" height="13" fill="#ff00ff"/>
<rect x="637.5" y="449.5" width="12.5" height="13" fill="#008000"/>
<rect x="637.5" y="466.5" width="12.5" height="13" fill="#0000ff"/>
</g>
<g font-size="12" letter-spacing="0.27">
<text x="663" y="410.1">more than 4,000</text>
<text x="663" y="427.8">2,000 to 4,000</text>
<text x="663" y="444.4">1,000 to 2,000</text>
<text x="673.5" y="461.2">500 to 1,000</text>
<text x="663" y="477.8">less than 500</text>
</g>
<g font-size="12" letter-spacing="0.39" text-anchor="end">
<text x="796.7" y="410.1">(44)</text>
<text x="796.7" y="427.8">(330)</text>
<text x="796.7" y="444.4">(695)</text>
<text x="796.7" y="461.2">(751)</text>
<text x="796.7" y="477.8">(39)</text>
</g>
</g>
</svg>
</body></html>
